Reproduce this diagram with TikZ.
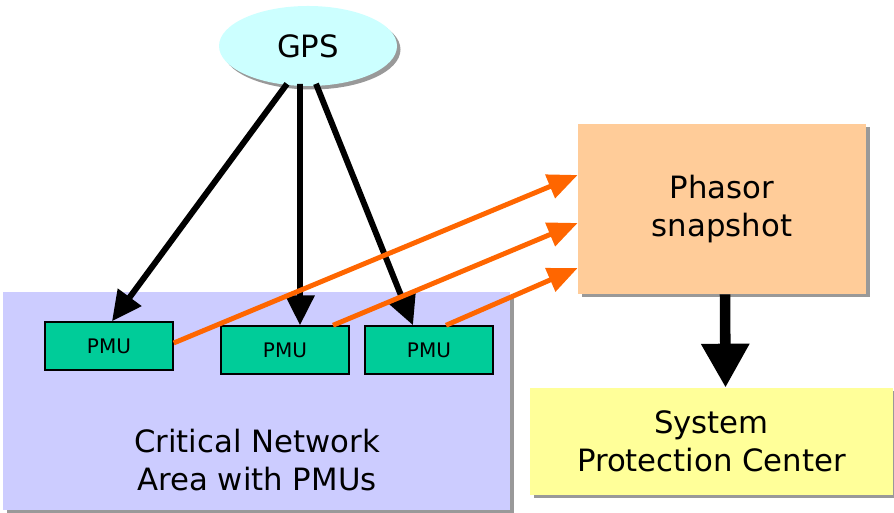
\documentclass[tikz,border=0pt]{standalone}
\usepackage{fontspec}
\setmainfont{DejaVu Sans}
\usepackage{xcolor}
\usepackage{tikz}
\usetikzlibrary{arrows.meta,positioning,calc,shapes.geometric,shadows}
\definecolor{gpscyan}{HTML}{CCFFFF}
\definecolor{areablue}{HTML}{CCCCFF}
\definecolor{pmugreen}{HTML}{00CC99}
\definecolor{snapbeige}{HTML}{FFCC99}
\definecolor{spcyellow}{HTML}{FFFF99}
\definecolor{feedorange}{HTML}{FF6600}

\begin{document}
\begin{tikzpicture}[font=\fontsize{17.5}{21.5}\selectfont,
  shade/.style={drop shadow={shadow xshift=0.07cm,shadow yshift=-0.07cm,fill=black,opacity=0.4}},
  bigbox/.style={shade,align=center,inner sep=0pt},
  pmu/.style={draw,line width=0.8pt,fill=pmugreen,minimum width=2.56cm,minimum height=0.96cm,inner sep=0pt,font=\fontsize{11.4}{13}\selectfont},
  sync/.style={-{Triangle[length=17pt,width=16pt]},line width=3.4pt},
  feed/.style={-{Triangle[length=17pt,width=14pt]},line width=2.8pt,draw=feedorange,color=feedorange},
  trip/.style={-{Triangle[length=25pt,width=26pt]},line width=6pt}]
\useasboundingbox (0,0) rectangle (17.88,10.26);
\node[bigbox,fill=areablue,minimum width=10.14cm,minimum height=4.36cm] (area) at (5.13,2.24) {};
\node[bigbox,ellipse,fill=gpscyan,minimum width=3.56cm,minimum height=1.6cm] (gps) at (6.16,9.34) {GPS};
\node[bigbox,fill=snapbeige,minimum width=5.76cm,minimum height=3.4cm] (snap) at (14.44,6.08) {Phasor\\snapshot};
\node[bigbox,fill=spcyellow,minimum width=7.26cm,minimum height=2.14cm] (spc) at (14.23,1.43) {System\\Protection Center};
\node[align=center] (arealabel) at (5.14,1.06) {Critical Network\\Area with PMUs};
\node[pmu] (pmu1) at (2.18,3.34) {PMU};
\node[pmu] (pmu2) at (5.70,3.26) {PMU};
\node[pmu] (pmu3) at (8.58,3.26) {PMU};
\draw[sync] ($(gps.south)+(-0.42,0.05)$) -- ($(pmu1.north)+(0.06,0)$);
\draw[sync] ($(gps.south)+(-0.16,0.05)$) -- ($(pmu2.north)+(0.30,0)$);
\draw[sync] ($(gps.south)+(0.16,0.05)$) -- ($(pmu3.north)+(-0.32,0)$);
\draw[feed] ($(pmu1.east)+(0,0.06)$) -- ($(snap.west)+(0,0.68)$);
\draw[feed] ($(pmu2.north)+(0.96,0)$) -- ($(snap.west)+(0,-0.28)$);
\draw[feed] ($(pmu3.north)+(0.34,0)$) -- ($(snap.west)+(0,-1.18)$);
\draw[trip] ($(snap.south)+(0.06,0)$) -- ($(spc.north)+(0.28,0)$);
\end{tikzpicture}
\end{document}
